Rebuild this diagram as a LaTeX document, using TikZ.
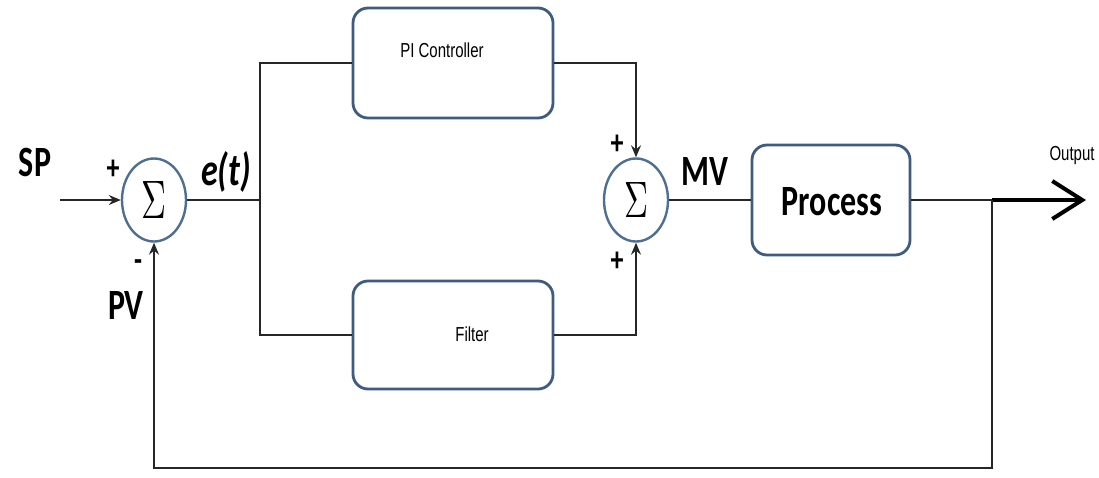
\documentclass[tikz,border=0pt]{standalone}
\usepackage{fontspec}
\usepackage{graphicx}
\setmainfont{Carlito}
\newfontfamily\arialf{Liberation Sans}
\usetikzlibrary{shapes.geometric,arrows.meta}
\newcommand{\vst}[1]{\scalebox{1}[1.35]{#1}}
\definecolor{boxc}{HTML}{3E5C80}
\definecolor{circc}{HTML}{4F6F92}
\begin{document}
\begin{tikzpicture}[x=1pt,y=-1pt,
  blockbox/.style={draw=boxc,line width=2.8pt,rounded corners=15pt,fill=white,inner sep=0pt},
  sumnode/.style={ellipse,draw=circc,line width=2.4pt,fill=white,inner sep=0pt,minimum width=64pt,minimum height=83pt},
  wire/.style={line width=1.5pt,draw=black!85},
  arr/.style={wire,-{Stealth[length=12pt,width=10pt,inset=4pt]}},
  biglbl/.style={font=\bfseries\fontsize{32}{34}\selectfont,inner sep=0pt},
  smalllbl/.style={font=\arialf\fontsize{15}{16}\selectfont,inner sep=0pt},
  signlbl/.style={font=\bfseries\fontsize{26}{28}\selectfont,inner sep=0pt}]
\useasboundingbox (0,0) rectangle (1099,477);
% blocks
\node[sumnode] (s1) at (154,200) {\raisebox{-6pt}{\resizebox{25pt}{37pt}{$\Sigma$}}};
\node[sumnode] (s2) at (636,200) {\raisebox{-6pt}{\resizebox{24pt}{35pt}{$\Sigma$}}};
\node[blockbox,minimum width=200pt,minimum height=110pt] (pi) at (453,63) {};
\node[blockbox,minimum width=200pt,minimum height=108pt] (filt) at (453,335) {};
\node[blockbox,minimum width=158pt,minimum height=110pt] (proc) at (831,200) {};
% texts
\node[smalllbl] (pitxt) at (442,50) {\vst{PI Controller}};
\node[smalllbl] (filttxt) at (472,334) {\vst{Filter}};
\node[biglbl] (proctxt) at (832,202) {\vst{Process}};
\node[biglbl] (sp) at (35,162) {\vst{SP}};
\node[biglbl] (pv) at (126,305) {\vst{PV}};
\node[biglbl] (mv) at (705,171) {\vst{MV}};
\node[font=\bfseries\itshape\fontsize{34}{36}\selectfont,inner sep=0pt] (et) at (226,172) {\vst{e(t)}};
\node[signlbl] (p1) at (113,170) {\vst{+}};
\node[signlbl] (m1) at (138,266) {\vst{-}};
\node[signlbl] (p2) at (617,145) {\vst{+}};
\node[signlbl] (p3) at (617,262) {\vst{+}};
\node[smalllbl] (outtxt) at (1072,156) {\vst{Output}};
% coordinates
\coordinate (spin) at (60,200);
\coordinate (br) at (260,200);
\coordinate (tap) at (992,200);
\coordinate (outend) at (1086,200);
\coordinate (fb) at (154,468);
% connectors
\draw[arr] (spin) -- (s1.west);
\draw[wire] (s1.east) -- (br);
\draw[wire] (pi.west) -| (br) |- (filt.west);
\draw[arr] (pi.east) -| (s2.north);
\draw[arr] (filt.east) -| (s2.south);
\draw[wire] (s2.east) -- (proc.west);
\draw[wire] (proc.east) -- (tap);
\draw[line width=4pt,-{Straight Barb[length=30pt,width=38pt,line width=4pt]}] (tap) -- (outend);
\draw[arr] (tap) |- (fb) -- (s1.south);
\end{tikzpicture}
\end{document}
